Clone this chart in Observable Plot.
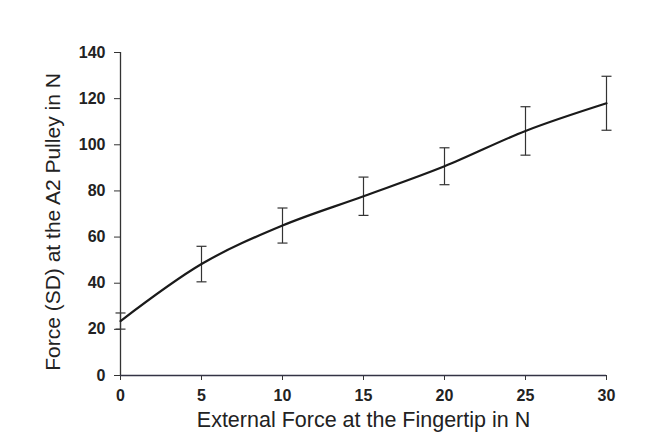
<!DOCTYPE html>
<html>
<head>
<meta charset="utf-8">
<script src="https://cdn.jsdelivr.net/npm/d3@7"></script>
<script src="https://cdn.jsdelivr.net/npm/@observablehq/plot@0.6"></script>
<style>
  html, body { margin: 0; padding: 0; background: #fff; }
  svg { display: block; }
</style>
</head>
<body>
<div id="chart"></div>
<script>
const externalForce = [0, 5, 10, 15, 20, 25, 30];
const pulleyForce = [23.6, 48.3, 65, 77.7, 90.7, 106, 118];
const pulleySD = [3.5, 7.7, 7.6, 8.3, 8, 10.5, 11.7];
const xTicks = [0, 5, 10, 15, 20, 25, 30];
const yTicks = [0, 20, 40, 60, 80, 100, 120, 140];
const xTitle = "External Force at the Fingertip in N";
const yTitle = "Force (SD) at the A2 Pulley in N";

const data = externalForce.map((x, i) => ({x, y: pulleyForce[i], sd: pulleySD[i]}));

const capSymbol = {
  draw(ctx, size) {
    const w = Math.sqrt(size / Math.PI);
    ctx.moveTo(-w, 0);
    ctx.lineTo(w, 0);
  }
};

const font = "Liberation Sans, Arial, sans-serif";

const chart = Plot.plot({
  width: 662,
  height: 443,
  marginLeft: 120,
  marginRight: 56,
  marginTop: 52,
  marginBottom: 68,
  style: {fontFamily: font, background: "#fff", color: "#222"},
  x: {domain: [0, 30]},
  y: {domain: [0, 140]},
  marks: [
    Plot.axisY({ticks: yTicks, tickSize: 6, tickPadding: 9, fontSize: 16, fontWeight: "bold", label: null, stroke: "#333"}),
    Plot.axisX({ticks: xTicks, tickSize: 5, tickPadding: 9, fontSize: 16, fontWeight: "bold", label: null, stroke: "#333"}),
    Plot.ruleX([0], {stroke: "#333", strokeWidth: 1.3}),
    Plot.ruleY([0], {stroke: "#334", strokeWidth: 1.3}),
    Plot.link(data, {x1: "x", x2: "x", y1: d => d.y - d.sd, y2: d => d.y + d.sd, stroke: "#333", strokeWidth: 1.2}),
    Plot.dot(data, {x: "x", y: d => d.y + d.sd, symbol: capSymbol, r: 5, stroke: "#333", strokeWidth: 1.2, fill: "none"}),
    Plot.dot(data, {x: "x", y: d => d.y - d.sd, symbol: capSymbol, r: 5, stroke: "#333", strokeWidth: 1.2, fill: "none"}),
    Plot.line(data, {x: "x", y: "y", curve: "monotone-x", stroke: "#1a1a1a", strokeWidth: 2.2}),
    Plot.text([xTitle], {frameAnchor: "bottom", textAnchor: "middle", dy: 51, text: d => d, fontSize: 21.5, fill: "#222"}),
    Plot.text([yTitle], {frameAnchor: "left", textAnchor: "middle", dx: -67, dy: 8, rotate: -90, text: d => d, fontSize: 21, fill: "#222"})
  ]
});
document.getElementById("chart").appendChild(chart);
</script>
</body>
</html>
